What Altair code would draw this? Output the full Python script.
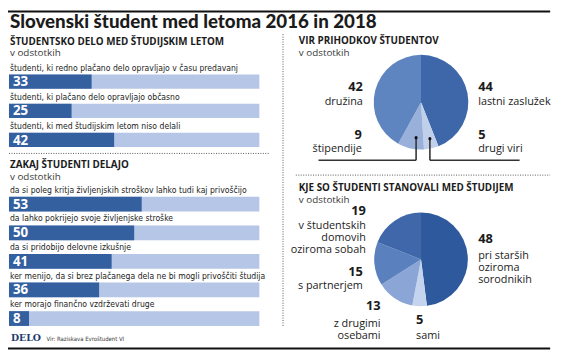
import altair as alt
import pandas as pd

# ---------------- data ----------------
title_text = "Slovenski študent med letoma 2016 in 2018"
unit_text = "v odstotkih"

work_title = "ŠTUDENTSKO DELO MED ŠTUDIJSKIM LETOM"
work_labels = [
    "študenti, ki redno plačano delo opravljajo v času predavanj",
    "študenti, ki plačano delo opravljajo občasno",
    "študenti, ki med študijskim letom niso delali",
]
work_values = [33, 25, 42]

why_title = "ZAKAJ ŠTUDENTI DELAJO"
why_labels = [
    "da si poleg kritja življenjskih stroškov lahko tudi kaj privoščijo",
    "da lahko pokrijejo svoje življenjske stroške",
    "da si pridobijo delovne izkušnje",
    "ker menijo, da si brez plačanega dela ne bi mogli privoščiti študija",
    "ker morajo finančno vzdrževati druge",
]
why_values = [53, 50, 41, 36, 8]

income_title = "VIR PRIHODKOV ŠTUDENTOV"
income_cats = ["lastni zaslužek", "drugi viri", "štipendije", "družina"]
income_values = [44, 5, 9, 42]

living_title = "KJE SO ŠTUDENTI STANOVALI MED ŠTUDIJEM"
living_cats = [
    "pri starših\noziroma\nsorodnikih",
    "sami",
    "z drugimi\nosebami",
    "s partnerjem",
    "v študentskih\ndomovih\noziroma sobah",
]
living_values = [48, 5, 13, 15, 19]

source_brand = "DELO"
source_text = "Vir: Raziskava Evroštudent VI"

# ---------------- styles / layout ----------------
W, H = 561, 350
OX, OY = 8, 8  # page margin

TEXT = "#1b1b1b"
SUB = "#3a3a3a"
BAR_DARK = "#34609f"
BAR_LIGHT = "#b5c6e6"
INCOME_COLORS = ["#3d67a9", "#c0d0eb", "#99b0da", "#5f85c0"]
LIVING_COLORS = ["#2e599c", "#c5d4ee", "#8ba6d6", "#5b80be", "#3f67aa"]

SANS = "Open Sans, Noto Sans, sans-serif"
TITLE_FONT = "Lato, Open Sans, sans-serif"
COND = "Liberation Sans Narrow, DejaVu Sans Condensed, Roboto Condensed, Roboto, sans-serif"
SERIF = "DejaVu Serif, Liberation Serif, serif"


def text_layer(rows, size, weight="normal", align="left", color=TEXT, font=SANS, line_height=None):
    df = pd.DataFrame(rows, columns=["x", "y", "t"])
    df["x"] = df["x"] - OX
    df["y"] = df["y"] - OY
    kw = dict(align=align, baseline="alphabetic", fontSize=size, fontWeight=weight,
              color=color, font=font, lineBreak="\n")
    if line_height:
        kw["lineHeight"] = line_height
    return alt.Chart(df).mark_text(**kw).encode(
        x=alt.X("x:Q", scale=None), y=alt.Y("y:Q", scale=None), text="t:N")


def rule_layer(rows, color, width, dash=None):
    df = pd.DataFrame(rows, columns=["x", "y", "x2", "y2"])
    for c in ["x", "x2"]:
        df[c] = df[c] - OX
    for c in ["y", "y2"]:
        df[c] = df[c] - OY
    kw = dict(color=color, strokeWidth=width)
    if dash:
        kw["strokeDash"] = dash
    return alt.Chart(df).mark_rule(**kw).encode(
        x=alt.X("x:Q", scale=None), y=alt.Y("y:Q", scale=None), x2="x2:Q", y2="y2:Q")


def bar_section(labels, values, top, step, bar_h, x0=9, x1=263):
    n = len(labels)
    df = pd.DataFrame({"i": list(range(n)), "label": labels, "value": values, "full": [100] * n})
    pi = 1 - bar_h / step
    po = pi / 2
    r0 = top - OY - po * step
    ys = alt.Scale(domain=list(range(n)), range=[r0, r0 + n * step], paddingInner=pi, paddingOuter=po)
    xs = alt.Scale(domain=[0, 100], range=[x0 - OX, x1 - OX])
    y = alt.Y("i:O", scale=ys, axis=None)
    base = alt.Chart(df)
    bg = base.mark_bar(color=BAR_LIGHT).encode(x=alt.X("full:Q", scale=xs, axis=None), y=y)
    fg = base.mark_bar(color=BAR_DARK).encode(x=alt.X("value:Q", scale=xs, axis=None), y=y)
    num = base.mark_text(align="left", baseline="alphabetic", dy=12 - bar_h / 2, fontSize=13.5,
                         fontWeight="bold", color="white", font=SANS).encode(
        x=alt.value(13 - OX), y=y, text="value:Q")
    lab = base.mark_text(align="left", baseline="alphabetic", dy=-4 - bar_h / 2, fontSize=8.7,
                         color=TEXT, font=COND).encode(
        x=alt.value(10 - OX), y=y, text="label:N")
    return [bg, fg, num, lab]


def pie(cats, values, colors, cx, cy, r):
    df = pd.DataFrame({"i": list(range(len(cats))), "cat": cats, "value": values})
    return alt.Chart(df).mark_arc(radius=r).encode(
        theta=alt.Theta("value:Q", stack=True),
        color=alt.Color("cat:N", scale=alt.Scale(domain=cats, range=colors), legend=None),
        order=alt.Order("i:Q"),
        x=alt.value(cx - OX), y=alt.value(cy - OY),
    )


layers = []

# frame lines
layers.append(rule_layer([[0, 9, 558, 9], [0, 351, 558, 351]], "#111111", 2))
layers.append(rule_layer([[9, 153, 273, 153], [300, 175, 558, 175], [287, 32, 287, 328]],
                         "#555555", 1, dash=[1, 1.5]))

# titles
layers.append(text_layer([[10, 26, title_text]], 19, weight=900, font=TITLE_FONT))
layers.append(text_layer([[10, 42.5, work_title], [10, 167.5, why_title],
                          [303, 41.5, income_title], [303, 191.5, living_title]],
                         10, weight="bold", font=SANS))
layers.append(text_layer([[10, 54.5, unit_text], [10, 179.5, unit_text],
                          [303, 54.5, unit_text], [303, 203.5, unit_text]],
                         10, color=SUB, font=SANS))

# bars
layers += bar_section(work_labels, work_values, top=73, step=29.5, bar_h=14.5)
layers += bar_section(why_labels, why_values, top=197, step=29, bar_h=15)

# pies
layers.append(pie(income_cats, income_values, INCOME_COLORS, 427, 101, 48))
layers.append(pie(living_cats, living_values, LIVING_COLORS, 427, 260.5, 47.5))

# pie annotation positions (reference px): number anchor, label anchor, alignment
income_pos = [(485, 90, 104, "left"), (485, 138, 152, "left"),
              (367, 138, 152, "right"), (368, 90, 104, "right")]
living_pos = [(485, 244, 260, "left"), (422, 326, 341, "left"),
              (386, 312, 329, "right"), (368, 277, 291, "right"), (371, 215, 230, "right")]

for cats, vals, pos in [(income_cats, income_values, income_pos), (living_cats, living_values, living_pos)]:
    for align in ["left", "right"]:
        nums = [[p[0], p[1], str(v)] for c, v, p in zip(cats, vals, pos) if p[3] == align]
        labs = [[p[0], p[2], c] for c, v, p in zip(cats, vals, pos) if p[3] == align]
        layers.append(text_layer(nums, 13, weight="bold", align=align, font=SANS))
        layers.append(text_layer(labs, 11, align=align, font=SANS, line_height=12))

# leader lines for small income slices
layers.append(rule_layer([[422, 137, 422, 160], [323, 160, 422, 160],
                          [436, 138, 436, 160], [436, 160, 527, 160]], "#333333", 1.6))
dots = pd.DataFrame({"x": [422 - OX, 436 - OX], "y": [137 - OY, 138 - OY]})
layers.append(alt.Chart(dots).mark_circle(size=10, color="#111111", opacity=1).encode(
    x=alt.X("x:Q", scale=None), y=alt.Y("y:Q", scale=None)))

# footer
layers.append(text_layer([[11, 343, source_brand]], 9.5, weight="bold", color="#1d3a70", font=SERIF))
layers.append(text_layer([[47, 343, source_text]], 6, color=SUB, font=COND))

chart = alt.layer(*layers).resolve_scale(
    x="independent", y="independent", theta="independent", color="independent"
).properties(
    width=W, height=H, padding=0, background="white",
    autosize=alt.AutoSizeParams(type="none"),
).configure_view(stroke=None)

chart.save("out.html", embed_options={"renderer": "svg", "actions": False})
